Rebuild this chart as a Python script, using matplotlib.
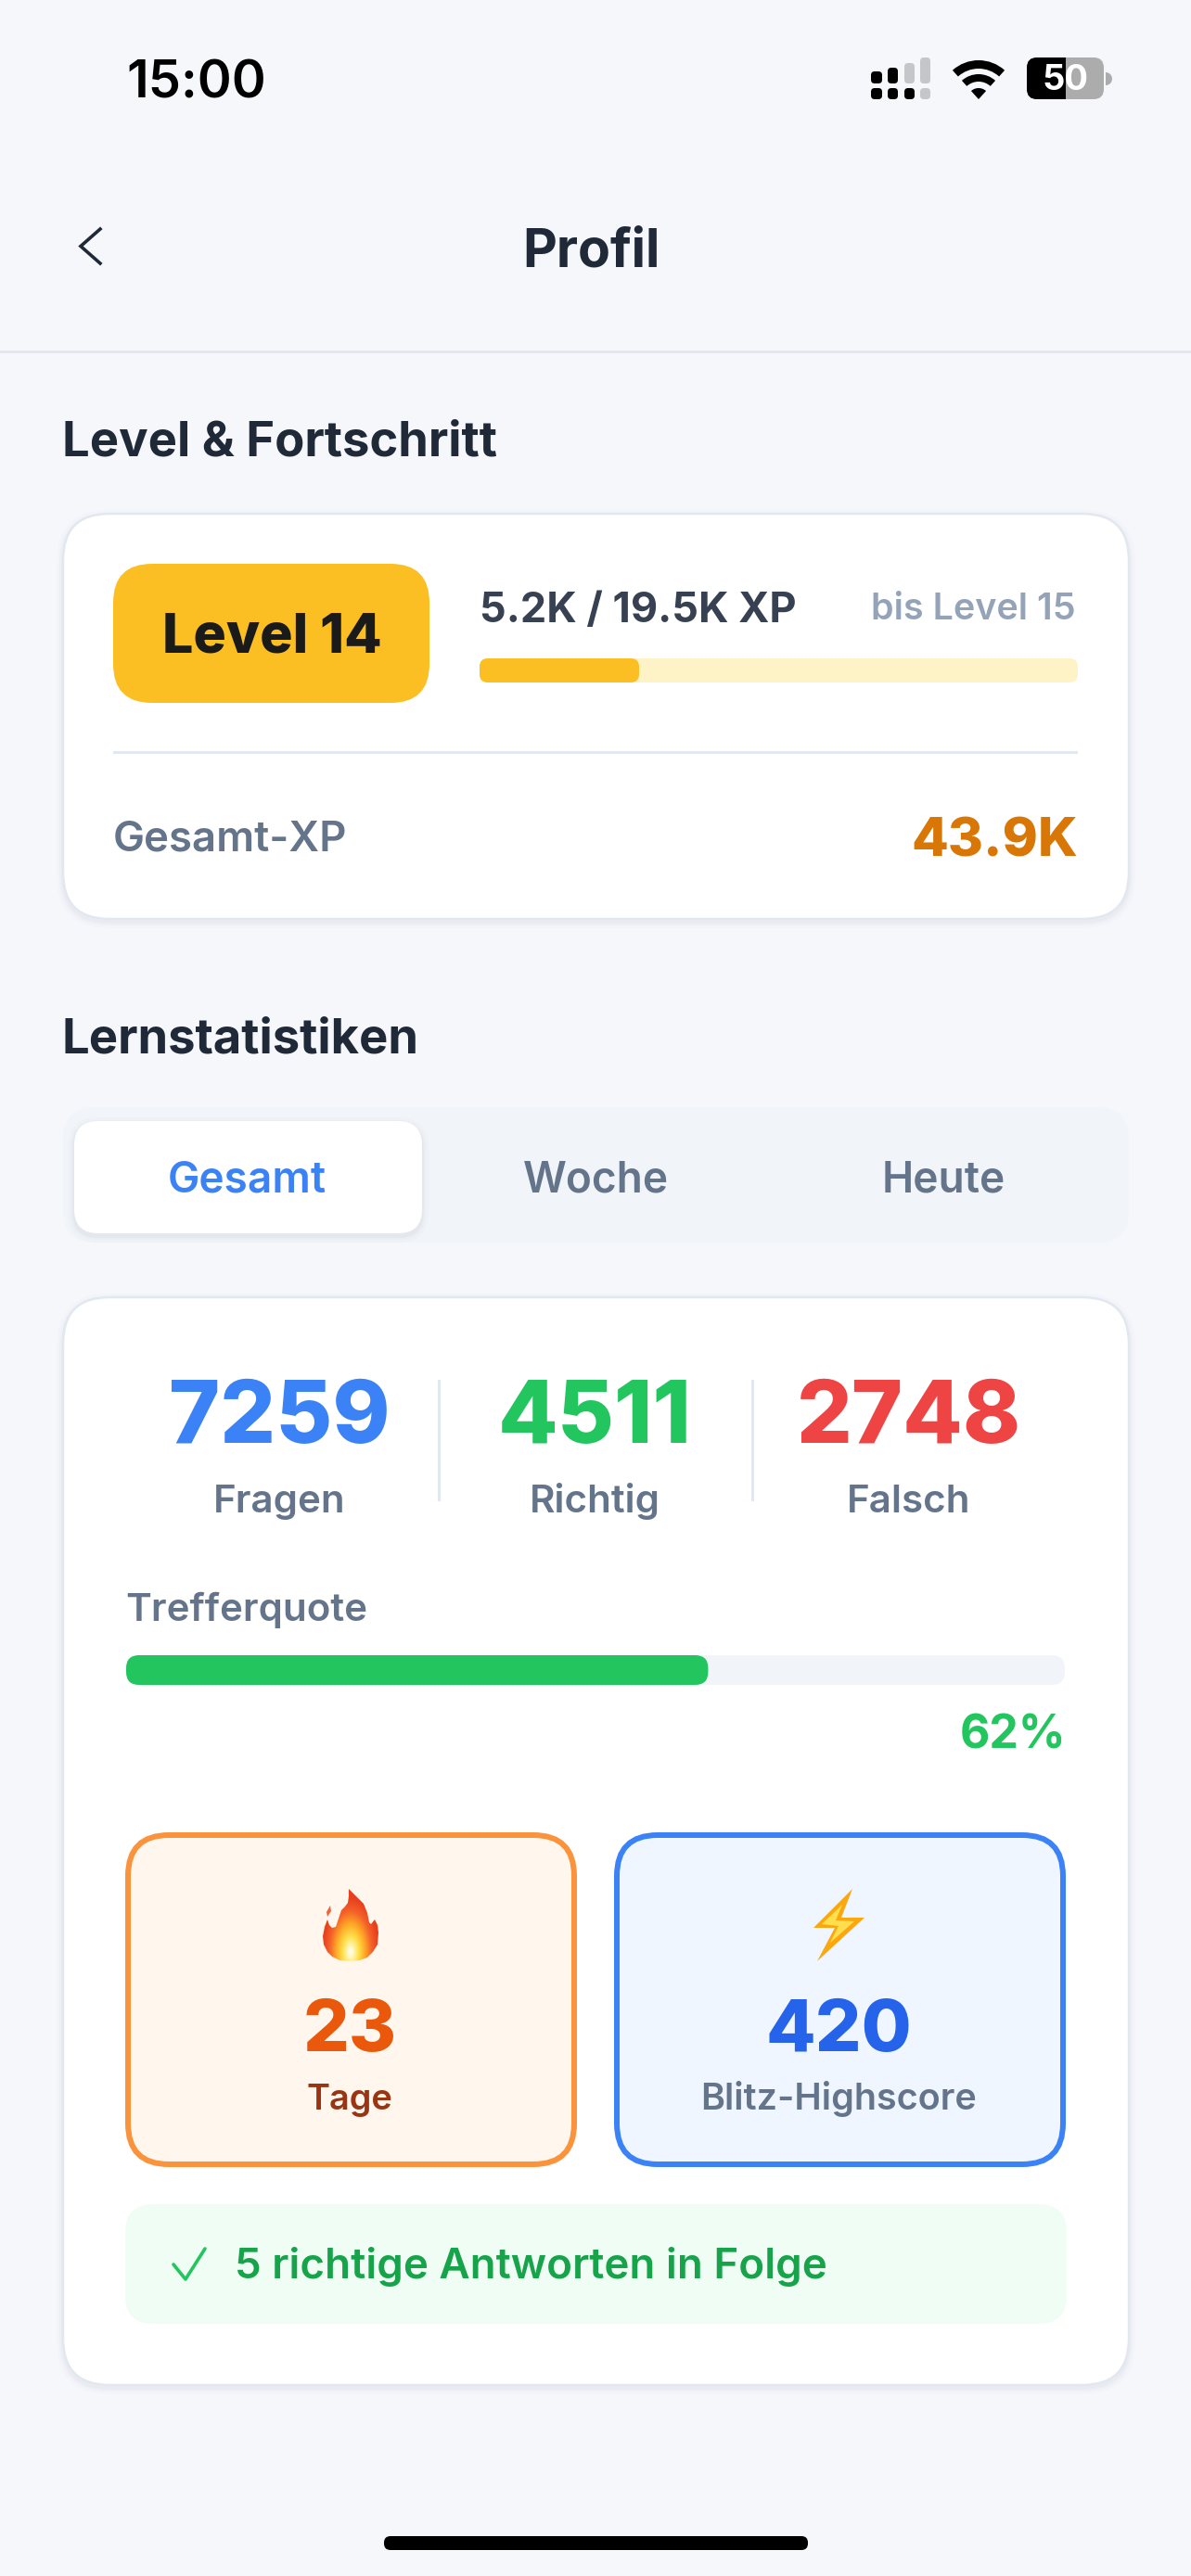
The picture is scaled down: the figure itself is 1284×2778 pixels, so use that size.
import numpy as np
import matplotlib
matplotlib.use("Agg")
import matplotlib.pyplot as plt
from matplotlib.colors import LinearSegmentedColormap
from matplotlib.patches import FancyBboxPatch, Rectangle, Wedge, Polygon, PathPatch
from matplotlib.path import Path

plt.rcParams["font.family"] = ["Inter", "DejaVu Sans"]

# data
level = 14
xp_now = 5.2
xp_next = 19.5
xp_total = 43.9
tab_labels = ["Gesamt", "Woche", "Heute"]
stat_labels = ["Fragen", "Richtig", "Falsch"]
stat_values = [7259, 4511, 2748]
quote_pct = 62
streak_days = 23
blitz_score = 420
streak_answers = 5

BG = "#f5f7fb"
DARK = "#1f2937"
SLATE = "#64748b"
BLUE = "#3b82f6"
GREEN = "#22c55e"
RED = "#ef4444"
AMBER = "#fbbf24"

W, H = 1284, 2778
fig = plt.figure(figsize=(W / 100, H / 100), dpi=100, facecolor=BG)
ax = fig.add_axes([0, 0, 1, 1])
ax.set_xlim(0, W)
ax.set_ylim(H, 0)
ax.axis("off")


def txt(x, y, s, px, color, weight="normal", ha="left"):
    # y ist die Grundlinie, px die Schriftgroesse in Pixeln
    ax.text(x, y, s, fontsize=px * 0.72, color=color, fontweight=weight,
            ha=ha, va="baseline", zorder=10)


def rbox(x0, y0, x1, y1, r, fc, ec="none", lw=0, z=2, alpha=None):
    p = FancyBboxPatch((x0, y0), x1 - x0, y1 - y0,
                       boxstyle=f"round,pad=0,rounding_size={r}",
                       fc=fc, ec=ec, lw=lw * 0.72, zorder=z, alpha=alpha)
    ax.add_patch(p)
    return p


def card(x0, y0, x1, y1, r):
    for grow, a in [(7, 0.012), (4, 0.018), (2, 0.025)]:
        rbox(x0 - grow, y0 - grow + 3, x1 + grow, y1 + grow + 3, r + grow, "#334155", alpha=a, z=1)
    rbox(x0, y0, x1, y1, r, "white", "#e2e8f0", 2.5, z=2)


# Statusleiste
txt(136, 106, "15:00", 56, "black", "semibold")
sig_x = [(939, 951), (957, 968), (975, 986), (992, 1003)]
sig_top = [77, 73, 68, 62]
for i, (a, b) in enumerate(sig_x):
    rbox(a, sig_top[i], b, 90, 4, "black" if i < 2 else "#c4c6c9", z=3)
    rbox(a, 95, b, 107, 4, "black" if i < 3 else "#c4c6c9", z=3)
for r0, r1 in [(42, 33), (27, 19), (12, 0)]:
    ax.add_patch(Wedge((1055, 107), r0, 228, 312, width=r0 - r1, fc="black", ec="none", zorder=3))
batt = rbox(1107, 62, 1190, 107, 11, "#acacac", z=3)
dark = Rectangle((1107, 62), 42, 45, fc="black", ec="none", zorder=4)
ax.add_patch(dark)
dark.set_clip_path(batt.get_path(), batt.get_transform())
ax.add_patch(Wedge((1192, 85), 7, 270, 90, fc="#acacac", ec="none", zorder=3))
txt(1148, 97, "50", 38, "white", "bold", "center")

# Kopfzeile
ax.plot([108, 87, 108], [247, 265.5, 284], color=DARK, lw=3.6 * 0.72, zorder=5, solid_joinstyle="miter")
txt(637, 288, "Profil", 57, DARK, "bold", "center")
ax.add_patch(Rectangle((0, 378), W, 2.5, fc="#e4e8ee", ec="none", zorder=1))

# Level & Fortschritt
txt(67, 491, "Level & Fortschritt", 52.5, DARK, "bold")
card(68, 554, 1217, 991, 50)
rbox(122, 608, 463, 758, 42, AMBER, z=3)
txt(293, 704, f"Level {level}", 59, "#1a1a1a", 800, "center")
txt(517, 671, f"{xp_now}K / {xp_next}K XP", 45, "#374151", "bold")
txt(1160, 668, f"bis Level {level + 1}", 39.5, "#94a3b8", "semibold", "right")
bar_x0, bar_x1 = 517, 1162
rbox(bar_x0, 710, bar_x1, 736, 9, "#fef3c7", z=3)
rbox(bar_x0, 710, bar_x0 + (bar_x1 - bar_x0) * xp_now / xp_next, 736, 9, AMBER, z=4)
ax.add_patch(Rectangle((122, 810), 1040, 2.5, fc="#e2e8f0", ec="none", zorder=3))
txt(122, 917, "Gesamt-XP", 45.5, SLATE, "semibold")
txt(1162, 923, f"{xp_total}K", 58, "#d97706", 800, "right")

# Lernstatistiken
txt(67, 1135, "Lernstatistiken", 52.5, DARK, "bold")
rbox(68, 1194, 1217, 1340, 34, "#f1f5f9", z=1)
for grow, a in [(7, 0.012), (4, 0.02), (2, 0.03)]:
    rbox(80 - grow, 1209 - grow + 3, 455 + grow, 1330 + grow + 3, 26 + grow, "#334155", alpha=a, z=2)
rbox(80, 1209, 455, 1330, 26, "white", z=3)
tab_x = [266, 642, 1017]
for i, (x, s) in enumerate(zip(tab_x, tab_labels)):
    txt(x, 1286, s, 46, BLUE if i == 0 else SLATE, "semibold", "center")

card(68, 1399, 1217, 2572, 50)
stat_x = [301, 641, 980]
stat_col = [BLUE, GREEN, RED]
for x, v, s, c in zip(stat_x, stat_values, stat_labels, stat_col):
    txt(x, 1556, str(v), 94, c, 800, "center")
    txt(x, 1631, s, 42, SLATE, "semibold", "center")
for x in [473, 811]:
    ax.add_patch(Rectangle((x - 1, 1488), 2.5, 131, fc="#e2e8f0", ec="none", zorder=3))

txt(135, 1748, "Trefferquote", 42, SLATE, "semibold")
q_x0, q_x1 = 136, 1148
rbox(q_x0, 1785, q_x1, 1817, 14, "#f1f5f9", z=3)
rbox(q_x0, 1785, q_x0 + (q_x1 - q_x0) * quote_pct / 100, 1817, 14, GREEN, z=4)
txt(1149, 1885, f"{quote_pct}%", 50, GREEN, "bold", "right")

# Kacheln
rbox(138, 1979, 619, 2334, 44, "#fff7ed", "#fb923c", 6, z=3)
rbox(665, 1979, 1146, 2334, 44, "#eff6ff", BLUE, 6, z=3)
txt(377, 2212, str(streak_days), 78, "#ea580c", 800, "center")
txt(377, 2275, "Tage", 38, "#9a3412", "semibold", "center")
txt(904, 2212, str(blitz_score), 78, "#2563eb", 800, "center")
txt(904, 2275, "Blitz-Highscore", 39.5, SLATE, "semibold", "center")

# Flamme als Verlauf, in den Umriss geschnitten
flame_pts = [(376, 2037), (384, 2045), (392, 2053), (396, 2063), (398, 2073), (400, 2075),
             (404, 2070), (407, 2076), (408, 2084), (407, 2097), (402, 2105), (396, 2111),
             (388, 2114), (377, 2115), (366, 2114), (358, 2110), (353, 2105), (349, 2097),
             (348, 2088), (350, 2078), (353, 2070), (355, 2076), (358, 2079), (362, 2078),
             (365, 2069), (368, 2060), (372, 2056), (375, 2052), (376, 2045)]
flame = Path(flame_pts + [flame_pts[0]], closed=True)
gy, gx = np.mgrid[2030:2120:180j, 340:416:150j]
dist = np.hypot((gx - 378) / 30, (gy - 2105) / 58)
flame_cmap = LinearSegmentedColormap.from_list(
    "flame", ["#fffde0", "#ffe14a", "#ffa726", "#f4622a", "#e8401f"])
im = ax.imshow(dist, extent=(340, 416, 2120, 2030), cmap=flame_cmap, vmin=0.05, vmax=1.0,
               zorder=5, aspect="auto", interpolation="bilinear")
im.set_clip_path(PathPatch(flame, transform=ax.transData))
ax.add_patch(Polygon([(356, 2055), (357, 2061), (353, 2067), (352, 2062)], closed=True,
                     fc="#f0623a", ec="none", zorder=5))
ax.set_xlim(0, W)
ax.set_ylim(H, 0)

# Blitz
ax.add_patch(Polygon([(919, 2037), (877, 2079), (900, 2079), (881, 2115), (932, 2068), (907, 2068)],
                     closed=True, fc="#fba70f", ec="none", zorder=5))
ax.add_patch(Polygon([(908, 2054), (886, 2075), (904, 2077), (895, 2095), (921, 2072), (901, 2071)],
                     closed=True, fc="#ffdf4d", ec="none", zorder=6))

# Hinweis unten
rbox(135, 2377, 1150, 2506, 30, "#f0fdf4", z=3)
ax.plot([187, 200, 221], [2442, 2458, 2425], color=GREEN, lw=3.6 * 0.72, zorder=5,
        solid_capstyle="round", solid_joinstyle="round")
txt(253, 2457, f"{streak_answers} richtige Antworten in Folge", 45.7, "#16a34a", "semibold")

# Home-Indikator
rbox(414, 2735, 871, 2750, 7, "black", z=5)

fig.savefig("out.png", dpi=100, facecolor=BG)
